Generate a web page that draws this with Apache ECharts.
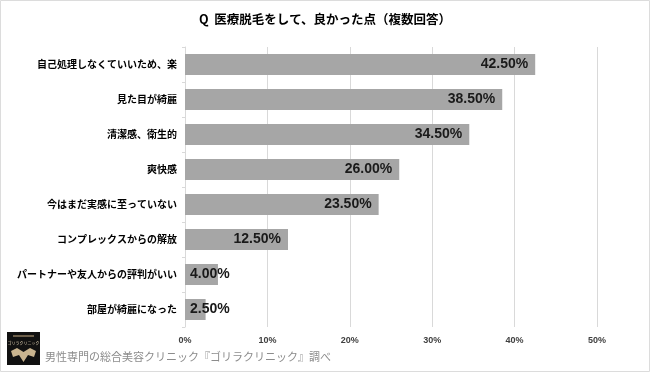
<!DOCTYPE html>
<html><head><meta charset="utf-8">
<script src="https://cdn.jsdelivr.net/npm/echarts@6/dist/echarts.min.js"></script>
<style>html,body{margin:0;padding:0;background:#fff}#c{width:650px;height:372px}</style>
</head><body><div id="c"></div>
<script>
var titleText = 'Q  医療脱毛をして、良かった点（複数回答）';
var categories = ['自己処理しなくていいため、楽','見た目が綺麗','清潔感、衛生的','爽快感','今はまだ実感に至っていない','コンプレックスからの解放','パートナーや友人からの評判がいい','部屋が綺麗になった'];
var values = [42.5, 38.5, 34.5, 26.0, 23.5, 12.5, 4.0, 2.5];
var axisMin = 0, axisMax = 50, axisStep = 10;
var footerText = '男性専門の総合美容クリニック『ゴリラクリニック』調べ';

var font = '"Noto Sans CJK JP", sans-serif';
var chart = echarts.init(document.getElementById('c'), null, {renderer:'canvas'});
var cats = categories.slice().reverse();
var vals = values.slice().reverse().map(function(v){
  return {value: v, label: v < 8 ? {position:'insideLeft', distance: 5} : {position:'insideRight', distance: 7}};
});
chart.setOption({
  backgroundColor: '#fff',
  animation: false,
  title: {text: titleText, left: 'center', top: 8,
    textStyle: {fontFamily: font, fontSize: 12.5, fontWeight: 'bold', color: '#000'}},
  grid: {left: 185, right: 53, top: 47, bottom: 45},
  xAxis: {type: 'value', min: axisMin, max: axisMax, interval: axisStep,
    axisLine: {show: false}, axisTick: {show: false},
    splitLine: {lineStyle: {color: '#d9d9d9', width: 1}},
    axisLabel: {formatter: '{value}%', color: '#404040', fontSize: 9, fontWeight: 'bold', fontFamily: 'Liberation Sans, sans-serif', margin: 9}},
  yAxis: {type: 'category', data: cats,
    axisLine: {lineStyle: {color: '#d9d9d9'}},
    axisTick: {show: true, length: 3, lineStyle: {color: '#d9d9d9'}},
    axisLabel: {color: '#000', fontSize: 10, fontWeight: 'bold', fontFamily: font, margin: 8}},
  series: [{type: 'bar', data: vals, barWidth: 21,
    itemStyle: {color: '#a6a6a6'},
    label: {show: true, fontSize: 14, fontWeight: 'bold', color: '#1a1a1a', fontFamily: 'Liberation Sans, sans-serif',
      formatter: function(p){ return p.value.toFixed(2) + '%'; }}}],
  graphic: [
    {type: 'rect', shape: {x: 0.5, y: 0.5, width: 649, height: 371}, style: {fill: 'none', stroke: '#dcdcdc', lineWidth: 1}},
    {type: 'group', left: 7, top: 332, children: [
      {type: 'rect', shape: {x: 0, y: 0, width: 33, height: 33}, style: {fill: '#111'}},
      {type: 'rect', shape: {x: 6, y: 3, width: 21, height: 2}, style: {fill: '#6d5f4a'}},
      {type: 'text', style: {x: 16.5, y: 9, text: 'ゴリラクリニック', fontSize: 4, fill: '#e6d7b8', align: 'center', fontFamily: font}},
      {type: 'polygon', shape: {points: [[4,19],[10,16],[16.5,20],[23,16],[29,19],[27,25],[21,23],[16.5,30],[12,23],[6,25]]}, style: {fill: '#c9b48f'}}
    ]},
    {type: 'text', left: 45, top: 351, style: {text: footerText, fontSize: 11, fill: '#8c8c8c', fontFamily: font}}
  ]
});
</script></body></html>
